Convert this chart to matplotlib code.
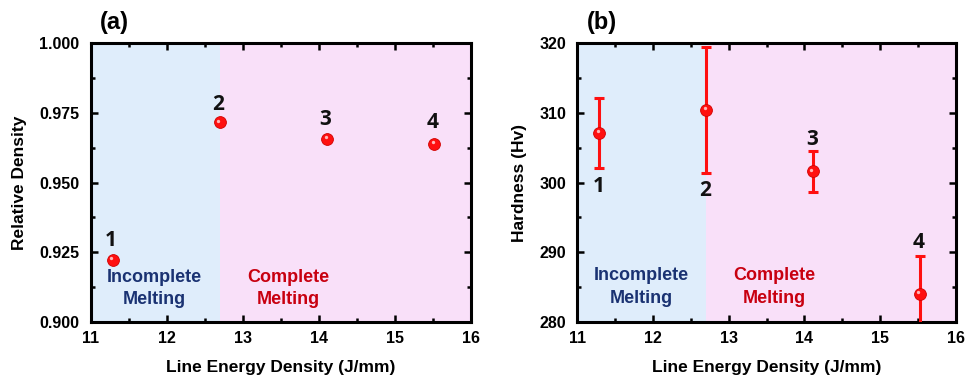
import matplotlib
matplotlib.use("Agg")
import matplotlib.pyplot as plt
import matplotlib.transforms as mtrans
from matplotlib.ticker import MultipleLocator, FormatStrFormatter

# ---- data ----
energy = [11.29, 12.70, 14.11, 15.52]
rel_density = [0.9223, 0.9716, 0.9656, 0.9640]
hardness = [307.1, 310.4, 301.6, 284.0]
hardness_err = [5.0, 9.05, 3.0, 5.4]
sample_labels = ["1", "2", "3", "4"]
label_y_a = [0.9293, 0.9782, 0.9725, 0.9715]
label_y_b = [299.4, 298.9, 306.2, 291.4]
boundary = 12.7
xlim = (11, 16)

BOLD = "Liberation Sans"
NUMFONT = "Open Sans"
BLUE_BG = "#DFEDFB"
PINK_BG = "#F9E0F9"
BLUE_TXT = "#1A3272"
RED_TXT = "#C80010"
RED = "#FF1010"

fig = plt.figure(figsize=(9.66, 3.77), dpi=100)
axa = fig.add_axes([0.0937, 0.1467, 0.3936, 0.7383])
axb = fig.add_axes([0.5976, 0.1467, 0.3920, 0.7383])


def style(ax, ylim, ymajor, yminor, yfmt):
    ax.set_xlim(*xlim)
    ax.set_ylim(*ylim)
    ax.axvspan(xlim[0], boundary, color=BLUE_BG, zorder=0, lw=0)
    ax.axvspan(boundary, xlim[1], color=PINK_BG, zorder=0, lw=0)
    ax.xaxis.set_major_locator(MultipleLocator(1))
    ax.xaxis.set_minor_locator(MultipleLocator(0.5))
    ax.yaxis.set_major_locator(MultipleLocator(ymajor))
    ax.yaxis.set_minor_locator(MultipleLocator(yminor))
    ax.tick_params(which="both", direction="in", top=True, right=True, width=1.8)
    ax.tick_params(which="major", length=5)
    ax.tick_params(axis="x", which="major", pad=7)
    ax.tick_params(axis="y", which="major", pad=8)
    ax.tick_params(which="minor", length=3)
    for s in ax.spines.values():
        s.set_linewidth(2.2)
    ax.yaxis.set_major_formatter(yfmt)
    for lab in ax.get_xticklabels() + ax.get_yticklabels():
        lab.set_fontfamily(BOLD)
        lab.set_fontweight("bold")
        lab.set_fontsize(11.5)
    ax.set_xlabel("Line Energy Density (J/mm)", fontfamily=BOLD, fontweight="bold",
                  fontsize=12.5, labelpad=10)


def spheres(ax, x, y):
    ax.plot(x, y, "o", ms=8.5, color=RED, mec="#D00000", mew=0.6, zorder=5, clip_on=False)
    off = mtrans.offset_copy(ax.transData, fig=fig, x=-1.0, y=1.3, units="points")
    ax.plot(x, y, "o", ms=2.4, color="white", alpha=0.7, mew=0, zorder=6,
            transform=off, clip_on=False)


def region_text(ax, y1, y2):
    kw = dict(fontfamily=BOLD, fontweight="bold", fontsize=13, ha="center", va="center")
    ax.text(11.84, y1, "Incomplete", color=BLUE_TXT, **kw)
    ax.text(11.84, y2, "Melting", color=BLUE_TXT, **kw)
    ax.text(13.60, y1, "Complete", color=RED_TXT, **kw)
    ax.text(13.60, y2, "Melting", color=RED_TXT, **kw)


def num_label(ax, x, y, t):
    ax.text(x, y, t, fontfamily=NUMFONT, fontweight="bold", fontsize=15, color="#111111",
            ha="center", va="center", zorder=7)


# ---- panel (a) ----
style(axa, (0.900, 1.000), 0.025, 0.0125, FormatStrFormatter("%.3f"))
axa.set_ylabel("Relative Density", fontfamily=BOLD, fontweight="bold", fontsize=12.5, labelpad=9)
spheres(axa, energy, rel_density)
for xi, yi, t in zip(energy, label_y_a, sample_labels):
    num_label(axa, xi - 0.02, yi, t)
region_text(axa, 0.9158, 0.9078)
axa.text(0.025, 1.035, "(a)", transform=axa.transAxes, fontfamily=BOLD, fontweight="bold",
         fontsize=17, ha="left", va="bottom")

# ---- panel (b) ----
style(axb, (280, 320), 10, 5, FormatStrFormatter("%d"))
axb.set_ylabel("Hardness (Hv)", fontfamily=BOLD, fontweight="bold", fontsize=12.5, labelpad=9)
axb.errorbar(energy, hardness, yerr=hardness_err, fmt="none", ecolor=RED, elinewidth=2.2,
             capsize=3.5, capthick=2.2, zorder=4)
spheres(axb, energy, hardness)
for xi, yi, t in zip(energy, label_y_b, sample_labels):
    num_label(axb, xi - 0.01, yi, t)
region_text(axb, 286.7, 283.4)
axb.text(0.025, 1.035, "(b)", transform=axb.transAxes, fontfamily=BOLD, fontweight="bold",
         fontsize=17, ha="left", va="bottom")

fig.savefig("out.png", dpi=100)
